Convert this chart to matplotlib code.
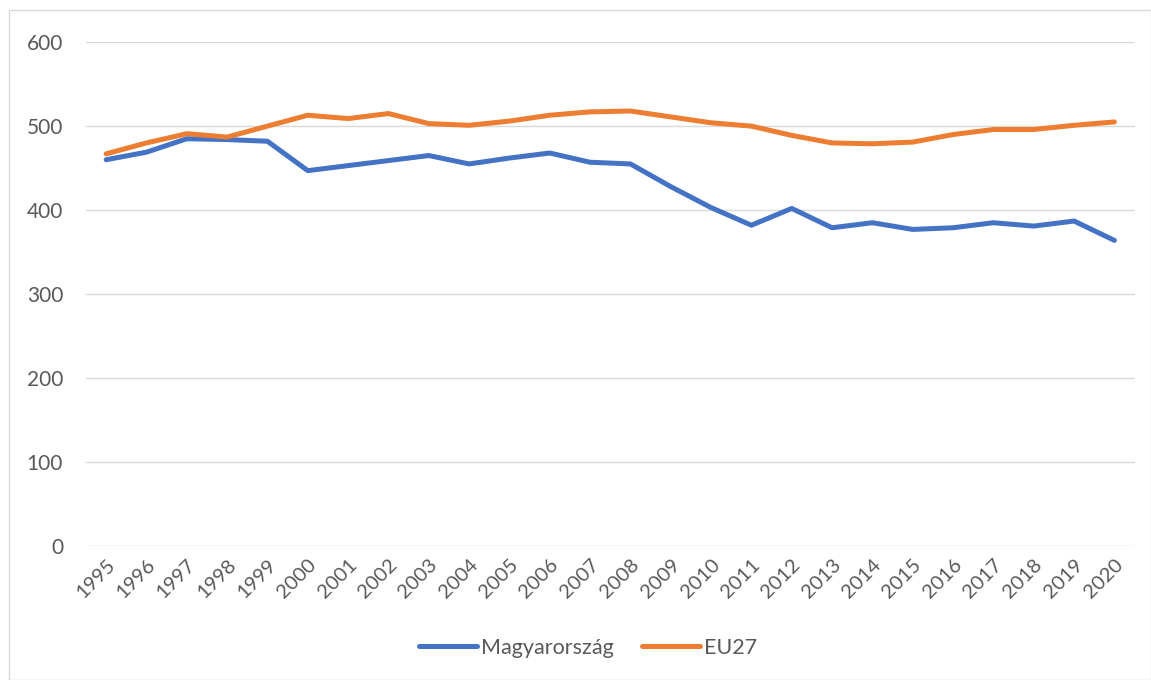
import matplotlib
matplotlib.use("Agg")
import matplotlib.pyplot as plt
from matplotlib.patches import Rectangle

years = [str(y) for y in range(1995, 2021)]
magyarorszag = [460, 469, 485, 484, 482, 447, 453, 459, 465, 455, 462, 468, 457,
                455, 428, 403, 382, 402, 379, 385, 377, 379, 385, 381, 387, 364]
eu27 = [467, 480, 491, 487, 500, 513, 509, 515, 503, 501, 506, 513, 517,
        518, 511, 504, 500, 489, 480, 479, 481, 490, 496, 496, 501, 505]

plt.rcParams['font.family'] = ['Lato', 'DejaVu Sans']
txt = '#595959'

fig = plt.figure(figsize=(11.51, 6.80), dpi=100)
ax = fig.add_axes([0.0747, 0.197, 0.911, 0.741])

x = range(len(years))
ax.plot(x, magyarorszag, color='#4472C4', lw=3.6, solid_capstyle='round', label='Magyarország')
ax.plot(x, eu27, color='#ED7D31', lw=3.6, solid_capstyle='round', label='EU27')

ax.set_xlim(-0.5, len(years) - 0.5)
ax.set_ylim(0, 600)
ax.set_yticks(range(0, 601, 100))
ax.set_xticks(list(x))
ax.set_xticklabels(years, rotation=45, ha='right', rotation_mode='anchor')
ax.tick_params(axis='both', length=0, colors=txt)
ax.tick_params(axis='y', pad=16.5, labelsize=15)
ax.tick_params(axis='x', pad=7, labelsize=14.5)
ax.grid(axis='y', color='#D9D9D9', lw=1)
ax.set_axisbelow(True)
for s in ax.spines.values():
    s.set_visible(False)

leg = ax.legend(loc='center', bbox_to_anchor=(0.479, -0.202), ncol=2, frameon=False,
                fontsize=15.5, handlelength=2.7, handletextpad=0.2, columnspacing=1.3,
                labelcolor=txt)

# chart border
fig.patches.append(Rectangle((9 / 1151, 0), 1 - 9 / 1151, 1 - 10 / 680, transform=fig.transFigure,
                             fill=False, edgecolor='#D9D9D9', lw=1))

fig.savefig('out.png', dpi=100)
